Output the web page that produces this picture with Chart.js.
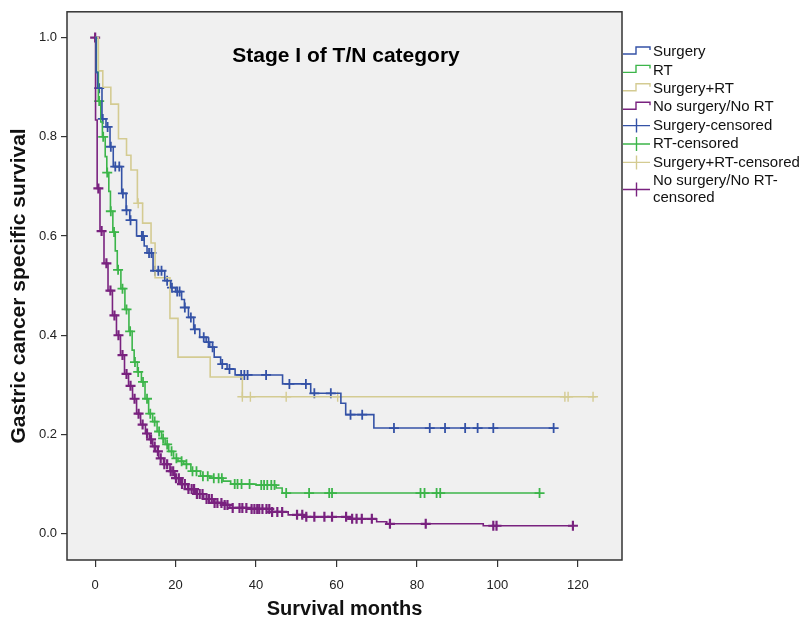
<!DOCTYPE html>
<html>
<head>
<meta charset="utf-8">
<script src="https://cdn.jsdelivr.net/npm/chart.js@4.4.0/dist/chart.umd.min.js"></script>
<style>
    html, body { margin: 0; padding: 0; background: #fff; }
    canvas { display: block; }
</style>
</head>
<body>
<canvas id="kmChart" width="800" height="625"></canvas>
<script>
// tick labels
const xTicks = [0, 20, 40, 60, 80, 100, 120];
const yTicks = [0, 0.2, 0.4, 0.6, 0.8, 1.0];

// Surgery
const surgeryMonths = [0, 0.25, 0.6, 1.7, 2.7, 3.7, 4.5, 6.6, 7.7, 8.6, 10.3, 12.2, 12.9, 14.4, 17.3, 18.8, 20, 21.5, 22.2, 23.2, 24.5, 26, 27.6, 28.5, 29.6, 31.2, 32.8, 34.8, 46.6, 53.6, 61.1, 62.3, 69.3, 114];
const surgerySurv = [1, 0.93, 0.898, 0.836, 0.82, 0.78, 0.74, 0.686, 0.652, 0.632, 0.6, 0.58, 0.566, 0.53, 0.51, 0.496, 0.488, 0.472, 0.456, 0.436, 0.412, 0.396, 0.386, 0.376, 0.356, 0.342, 0.332, 0.32, 0.302, 0.283, 0.263, 0.24, 0.213, 0.213];
const surgeryCensored = [1, 1.9, 3.1, 3.9, 5, 6, 6.9, 7.8, 8.8, 11.6, 11.9, 13.4, 14, 14.9, 15.7, 16.5, 17.9, 19.1, 20.4, 21, 22.3, 23.8, 24.8, 27, 28.2, 29.2, 31.6, 33.4, 36.3, 37.1, 37.9, 42.5, 48.3, 52.4, 54.5, 58.6, 63.5, 66.4, 74.3, 83.2, 87, 92, 95.1, 99, 114];

// RT
const rtMonths = [0, 0.3, 0.8, 1.4, 1.8, 2.5, 2.9, 3.4, 3.8, 4.4, 5, 5.5, 6.4, 7.4, 8.4, 9.2, 9.7, 10.5, 11.5, 12.4, 13.3, 14.3, 15.4, 16.5, 17.4, 18.3, 19.5, 20.6, 22, 23.8, 26.2, 28.5, 31.8, 33.7, 40, 45, 46.5, 110.5];
const rtSurv = [1, 0.93, 0.872, 0.83, 0.8, 0.76, 0.728, 0.69, 0.65, 0.608, 0.57, 0.532, 0.494, 0.452, 0.408, 0.37, 0.346, 0.326, 0.306, 0.272, 0.242, 0.226, 0.206, 0.192, 0.18, 0.166, 0.152, 0.146, 0.14, 0.126, 0.116, 0.112, 0.106, 0.1, 0.098, 0.092, 0.082, 0.082];
const rtCensored = [1, 2, 3, 3.9, 4.7, 5.7, 6.8, 7.8, 8.7, 9.9, 10.7, 11.9, 12.9, 13.7, 14.8, 15.9, 16.9, 17.9, 19, 20.2, 21.5, 22.7, 24.2, 25.2, 26.8, 28, 29.5, 30.7, 31.5, 34.7, 35.4, 36.4, 38.4, 41.3, 42, 42.8, 43.8, 44.6, 47.5, 53.2, 58.2, 58.9, 80.9, 81.9, 84.9, 85.8, 110.5];

// Surgery+RT
const bothMonths = [0, 0.8, 1.9, 3.9, 5.8, 7.8, 8.9, 10.5, 11.8, 13.9, 14.9, 18.6, 20.6, 28.6, 36.6, 124.6];
const bothSurv = [1, 0.933, 0.9, 0.866, 0.796, 0.763, 0.733, 0.666, 0.626, 0.586, 0.516, 0.434, 0.356, 0.316, 0.276, 0.276];
const bothCensored = [10.7, 36.6, 38.6, 47.5, 60.3, 116.8, 117.6, 123.8];

// No surgery/No RT
const noneMonths = [0, 0.1, 0.5, 1.2, 2.2, 3.2, 4.3, 5.3, 6.3, 7.3, 8.3, 9.3, 10.3, 11.3, 12.5, 13.5, 14.3, 15, 15.8, 17, 18.6, 19.8, 21.2, 23, 25, 27, 29.5, 31.5, 33.5, 38, 44, 48, 52, 63, 70, 72.5, 96.5, 119];
const noneSurv = [1, 0.834, 0.696, 0.61, 0.545, 0.49, 0.44, 0.4, 0.36, 0.322, 0.298, 0.272, 0.242, 0.22, 0.202, 0.19, 0.176, 0.166, 0.152, 0.14, 0.126, 0.112, 0.1, 0.09, 0.08, 0.07, 0.062, 0.058, 0.052, 0.05, 0.044, 0.038, 0.034, 0.03, 0.024, 0.02, 0.016, 0.016];
const noneCensored = [0, 0.8, 1.6, 2.8, 3.8, 4.8, 5.8, 6.8, 7.8, 8.8, 9.8, 10.8, 11.8, 12.9, 13.9, 14.8, 15.6, 16.3, 17.2, 17.9, 18.8, 19.4, 20.1, 20.8, 21.6, 22.3, 23.2, 24, 24.6, 25.3, 26, 26.7, 27.7, 28.3, 29, 29.7, 30.4, 31.4, 32.2, 32.9, 34.2, 35.9, 36.6, 37.6, 38.9, 39.6, 40.3, 40.8, 41.6, 42.6, 43.3, 44, 45.3, 46.5, 50.2, 51.5, 52.5, 54.5, 57, 58.9, 62.4, 63.9, 65, 66.3, 68.8, 73.3, 82.2, 99, 99.8, 118.8];

const legendLabels = ["Surgery", "RT", "Surgery+RT", "No surgery/No RT",
    "Surgery-censored", "RT-censored", "Surgery+RT-censored", "No surgery/No RT-censored"];

const FONT = '"Liberation Sans", Arial, sans-serif';
const BLUE = "#3452a6";
const GREEN = "#3cb54a";
const TAN = "#d4cb92";
const PURPLE = "#79227f";

function toPoints(months, surv) {
    return months.map((m, i) => ({ x: m, y: surv[i] }));
}

// survival value of a step curve at month t
function survAt(months, surv, t) {
    let s = surv[0];
    for (let i = 0; i < months.length; i++) {
        if (months[i] <= t) s = surv[i];
    }
    return s;
}

function censorPoints(censored, months, surv) {
    return censored.map((t) => ({ x: t, y: survAt(months, surv, t) }));
}

function curve(label, months, surv, color) {
    return {
        label: label,
        data: toPoints(months, surv),
        borderColor: color,
        borderWidth: 1.6,
        stepped: true,
        pointRadius: 0,
        fill: false,
    };
}

function censors(label, censored, months, surv, color, width) {
    return {
        label: label,
        data: censorPoints(censored, months, surv),
        showLine: false,
        pointStyle: "cross",
        pointRadius: 5,
        pointBorderWidth: width,
        pointBorderColor: color,
        borderColor: color,
    };
}

const plotFrame = {
    id: "plotFrame",
    beforeDraw(chart) {
        const { ctx, chartArea: a } = chart;
        ctx.save();
        ctx.fillStyle = "#f0f0f0";
        ctx.fillRect(a.left, a.top, a.right - a.left, a.bottom - a.top);
        ctx.restore();
    },
    afterDraw(chart) {
        const { ctx, chartArea: a } = chart;
        ctx.save();
        ctx.strokeStyle = "#333";
        ctx.lineWidth = 1.5;
        ctx.strokeRect(a.left, a.top, a.right - a.left, a.bottom - a.top);

        // title inside the plot
        ctx.fillStyle = "#000";
        ctx.font = "bold 21px " + FONT;
        ctx.textAlign = "center";
        ctx.textBaseline = "alphabetic";
        ctx.fillText("Stage I of T/N category", 346, 62);

        drawLegend(ctx, a.right);
        ctx.restore();
    },
};

function drawLegend(ctx, x0) {
    const colors = [BLUE, GREEN, TAN, PURPLE];
    const textX = x0 + 31;
    const maxW = 800 - textX;
    let y = 52;
    ctx.font = "15px " + FONT;
    ctx.textAlign = "left";
    ctx.textBaseline = "middle";
    legendLabels.forEach((label, i) => {
        let lines = [label];
        if (ctx.measureText(label).width > maxW + 3) {
            const cut = label.lastIndexOf("-") + 1;
            lines = [label.slice(0, cut), label.slice(cut)];
        }
        const mid = y + (lines.length - 1) * 8.7;
        ctx.strokeStyle = colors[i % 4];
        ctx.lineWidth = 1.4;
        ctx.beginPath();
        if (i < 4) {
            ctx.moveTo(x0 + 1, mid + 2);
            ctx.lineTo(x0 + 14, mid + 2);
            ctx.lineTo(x0 + 14, mid - 5);
            ctx.lineTo(x0 + 28, mid - 5);
            ctx.lineTo(x0 + 28, mid - 2);
        } else {
            ctx.moveTo(x0 + 1, mid);
            ctx.lineTo(x0 + 28, mid);
            ctx.moveTo(x0 + 14.5, mid - 7);
            ctx.lineTo(x0 + 14.5, mid + 7);
        }
        ctx.stroke();
        ctx.fillStyle = "#111";
        lines.forEach((t, k) => ctx.fillText(t, textX, y + k * 17.4));
        y += lines.length * 17.4 + 1;
    });
}

let kmChart;

function plotKmChart() {
    const ctx = document.getElementById("kmChart").getContext("2d");
    kmChart = new Chart(ctx, {
        type: "line",
        data: {
            datasets: [
                curve("Surgery", surgeryMonths, surgerySurv, BLUE),
                curve("RT", rtMonths, rtSurv, GREEN),
                curve("Surgery+RT", bothMonths, bothSurv, TAN),
                curve("No surgery/No RT", noneMonths, noneSurv, PURPLE),
                censors("Surgery-censored", surgeryCensored, surgeryMonths, surgerySurv, BLUE, 1.8),
                censors("RT-censored", rtCensored, rtMonths, rtSurv, GREEN, 1.8),
                censors("Surgery+RT-censored", bothCensored, bothMonths, bothSurv, TAN, 1.4),
                censors("No surgery/No RT-censored", noneCensored, noneMonths, noneSurv, PURPLE, 2.2),
            ],
        },
        options: {
            responsive: false,
            animation: false,
            layout: { padding: { left: 0, right: 178, top: 7, bottom: 0 } },
            plugins: {
                legend: { display: false },
                tooltip: { enabled: false },
            },
            scales: {
                x: {
                    type: "linear",
                    min: -7,
                    max: 131,
                    afterBuildTicks: (axis) => {
                        axis.ticks = xTicks.map((v) => ({ value: v }));
                    },
                    afterFit: (axis) => {
                        axis.height = 65;
                    },
                    grid: { drawOnChartArea: false, drawTicks: true, tickLength: 7, color: "#333", lineWidth: 1.2 },
                    border: { display: false },
                    ticks: {
                        font: { family: FONT, size: 13 },
                        color: "#222",
                        padding: 11,
                        maxRotation: 0,
                        callback: (v) => String(v),
                    },
                    title: {
                        display: true,
                        text: "Survival months",
                        color: "#111",
                        font: { family: FONT, size: 20, weight: "bold" },
                        padding: { top: 0, bottom: 4 },
                    },
                },
                y: {
                    type: "linear",
                    min: -0.053,
                    max: 1.052,
                    afterBuildTicks: (axis) => {
                        axis.ticks = yTicks.map((v) => ({ value: v }));
                    },
                    afterFit: (axis) => {
                        axis.width = 67;
                    },
                    grid: { drawOnChartArea: false, drawTicks: true, tickLength: 6, color: "#333", lineWidth: 1.2 },
                    border: { display: false },
                    ticks: {
                        font: { family: FONT, size: 13 },
                        color: "#222",
                        padding: 4,
                        callback: (v) => v.toFixed(1),
                    },
                    title: {
                        display: true,
                        text: "Gastric cancer specific survival",
                        color: "#111",
                        font: { family: FONT, size: 21, weight: "bold" },
                        padding: { top: 7, bottom: 0 },
                    },
                },
            },
        },
        plugins: [plotFrame],
    });
}

document.addEventListener("DOMContentLoaded", () => {
    plotKmChart();
});
</script>
</body>
</html>
